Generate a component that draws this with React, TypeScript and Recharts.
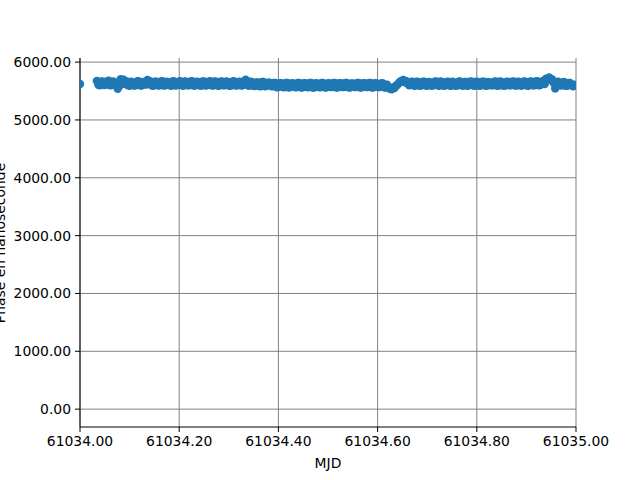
import { ScatterChart, Scatter, XAxis, YAxis, CartesianGrid } from "recharts";

const BASE_MJD = 61034;

// sample times (day fraction after BASE_MJD)
const dayOffsets = [
  0.0,
  0.034, 0.04, 0.046, 0.052, 0.058, 0.064, 0.07, 0.076, 0.082, 0.088,
  0.094, 0.1, 0.106, 0.112, 0.118, 0.124, 0.13, 0.136, 0.142, 0.148,
  0.154, 0.16, 0.166, 0.172, 0.178, 0.184, 0.19, 0.196, 0.202, 0.208,
  0.214, 0.22, 0.226, 0.232, 0.238, 0.244, 0.25, 0.256, 0.262, 0.268,
  0.274, 0.28, 0.286, 0.292, 0.298, 0.304, 0.31, 0.316, 0.322, 0.328,
  0.334, 0.34, 0.346, 0.352, 0.358, 0.364, 0.37, 0.376, 0.382, 0.388,
  0.394, 0.4, 0.406, 0.412, 0.418, 0.424, 0.43, 0.436, 0.442, 0.448,
  0.454, 0.46, 0.466, 0.472, 0.478, 0.484, 0.49, 0.496, 0.502, 0.508,
  0.514, 0.52, 0.526, 0.532, 0.538, 0.544, 0.55, 0.556, 0.562, 0.568,
  0.574, 0.58, 0.586, 0.592, 0.598, 0.604, 0.61, 0.616, 0.622, 0.628,
  0.634, 0.64, 0.646, 0.652, 0.658, 0.664, 0.67, 0.676, 0.682, 0.688,
  0.694, 0.7, 0.706, 0.712, 0.718, 0.724, 0.73, 0.736, 0.742, 0.748,
  0.754, 0.76, 0.766, 0.772, 0.778, 0.784, 0.79, 0.796, 0.802, 0.808,
  0.814, 0.82, 0.826, 0.832, 0.838, 0.844, 0.85, 0.856, 0.862, 0.868,
  0.874, 0.88, 0.886, 0.892, 0.898, 0.904, 0.91, 0.916, 0.922, 0.928,
  0.934, 0.94, 0.946, 0.952, 0.958, 0.964, 0.97, 0.976, 0.982, 0.988,
  0.994, 1.0,
];

// phase in ns at dayOffsets
const phaseNs = [
  5623,
  5675, 5600, 5660, 5610, 5680, 5605, 5650, 5540, 5705, 5695,
  5665, 5590, 5650, 5600, 5670, 5595, 5640, 5690, 5665, 5590,
  5660, 5595, 5670, 5600, 5650, 5590, 5665, 5605, 5670, 5590,
  5660, 5600, 5670, 5595, 5655, 5590, 5665, 5600, 5670, 5595,
  5660, 5590, 5665, 5600, 5655, 5590, 5670, 5595, 5660, 5600,
  5695, 5590, 5655, 5585, 5650, 5580, 5655, 5590, 5645, 5580,
  5640, 5570, 5635, 5565, 5640, 5570, 5630, 5565, 5640, 5560,
  5635, 5565, 5640, 5560, 5630, 5565, 5640, 5560, 5635, 5570,
  5640, 5565, 5635, 5570, 5640, 5560, 5630, 5570, 5640, 5565,
  5635, 5570, 5640, 5565, 5630, 5570, 5635, 5560, 5550, 5530,
  5550, 5610, 5665, 5690, 5670, 5600, 5660, 5590, 5655, 5595,
  5660, 5590, 5650, 5600, 5665, 5590, 5655, 5595, 5660, 5590,
  5650, 5595, 5665, 5590, 5655, 5600, 5660, 5590, 5655, 5595,
  5660, 5590, 5650, 5600, 5665, 5595, 5655, 5590, 5660, 5600,
  5665, 5595, 5655, 5600, 5660, 5590, 5665, 5600, 5670, 5605,
  5675, 5715, 5735, 5700, 5545, 5660, 5595, 5655, 5590, 5640,
  5580, 5600,
];

// in-between samples
const midOffsets = [
  0.037, 0.043, 0.049, 0.055, 0.061, 0.067, 0.073, 0.079, 0.085, 0.091,
  0.097, 0.103, 0.109, 0.115, 0.121, 0.127, 0.133, 0.139, 0.145, 0.151,
  0.157, 0.163, 0.169, 0.175, 0.181, 0.187, 0.193, 0.199, 0.205, 0.211,
  0.217, 0.223, 0.229, 0.235, 0.241, 0.247, 0.253, 0.259, 0.265, 0.271,
  0.277, 0.283, 0.289, 0.295, 0.301, 0.307, 0.313, 0.319, 0.325, 0.331,
  0.337, 0.343, 0.349, 0.355, 0.361, 0.367, 0.373, 0.379, 0.385, 0.391,
  0.397, 0.403, 0.409, 0.415, 0.421, 0.427, 0.433, 0.439, 0.445, 0.451,
  0.457, 0.463, 0.469, 0.475, 0.481, 0.487, 0.493, 0.499, 0.505, 0.511,
  0.517, 0.523, 0.529, 0.535, 0.541, 0.547, 0.553, 0.559, 0.565, 0.571,
  0.577, 0.583, 0.589, 0.595, 0.601, 0.607, 0.613, 0.619, 0.625, 0.631,
  0.637, 0.643, 0.649, 0.655, 0.661, 0.667, 0.673, 0.679, 0.685, 0.691,
  0.697, 0.703, 0.709, 0.715, 0.721, 0.727, 0.733, 0.739, 0.745, 0.751,
  0.757, 0.763, 0.769, 0.775, 0.781, 0.787, 0.793, 0.799, 0.805, 0.811,
  0.817, 0.823, 0.829, 0.835, 0.841, 0.847, 0.853, 0.859, 0.865, 0.871,
  0.877, 0.883, 0.889, 0.895, 0.901, 0.907, 0.913, 0.919, 0.925, 0.931,
  0.937, 0.943, 0.949, 0.955, 0.961, 0.967, 0.973, 0.979, 0.985, 0.991,
  0.997,
];

const midPhaseNs = [
  5610, 5665, 5605, 5670, 5600, 5665, 5590, 5580, 5680, 5620,
  5600, 5660, 5595, 5665, 5600, 5655, 5610, 5660, 5595, 5660,
  5600, 5665, 5595, 5660, 5600, 5670, 5595, 5660, 5600, 5665,
  5600, 5665, 5595, 5660, 5600, 5665, 5595, 5660, 5600, 5665,
  5595, 5660, 5600, 5665, 5590, 5660, 5600, 5655, 5595, 5665,
  5620, 5660, 5590, 5650, 5585, 5655, 5580, 5645, 5585, 5640,
  5565, 5635, 5570, 5640, 5560, 5635, 5570, 5640, 5565, 5635,
  5570, 5640, 5560, 5635, 5570, 5640, 5565, 5630, 5570, 5640,
  5560, 5635, 5570, 5640, 5565, 5630, 5570, 5640, 5560, 5635,
  5570, 5640, 5560, 5635, 5570, 5630, 5565, 5610, 5545, 5560,
  5590, 5640, 5680, 5650, 5620, 5655, 5595, 5660, 5590, 5660,
  5595, 5655, 5590, 5660, 5600, 5665, 5590, 5655, 5595, 5660,
  5590, 5660, 5600, 5655, 5590, 5665, 5595, 5660, 5590, 5660,
  5595, 5655, 5600, 5660, 5590, 5665, 5595, 5655, 5600, 5660,
  5595, 5660, 5590, 5665, 5595, 5660, 5600, 5665, 5600, 5660,
  5620, 5690, 5700, 5640, 5600, 5605, 5650, 5590, 5640, 5600,
  5610,
];

const xTicks = [61034.0, 61034.2, 61034.4, 61034.6, 61034.8, 61035.0];
const yTicks = [0, 1000, 2000, 3000, 4000, 5000, 6000];

const data = [
  ...dayOffsets.map((d, i) => ({ mjd: BASE_MJD + d, phase: phaseNs[i] })),
  ...midOffsets.map((d, i) => ({ mjd: BASE_MJD + d, phase: midPhaseNs[i] })),
];

const font = "DejaVu Sans, sans-serif";
const tickStyle = { fontSize: 13.9, fill: "#000", fontFamily: font };

const YLabel = () => (
  <text
    x={5}
    y={243}
    transform="rotate(-90, 5, 243)"
    textAnchor="middle"
    fontSize={13.9}
    fontFamily={font}
    fill="#000"
  >
    Phase en nanoseconde
  </text>
);

export default function App() {
  return (
    <div style={{ position: "absolute", left: 0, top: 0, width: 640, height: 480, background: "#fff" }}>
      <ScatterChart width={640} height={480} margin={{ top: 58, right: 64, bottom: 0, left: 0 }}>
        <XAxis
          xAxisId="top"
          orientation="top"
          dataKey="mjd"
          type="number"
          domain={[61034, 61035]}
          height={0}
          tick={false}
          tickLine={false}
          axisLine={{ stroke: "#000", strokeWidth: 1 }}
        />
        <YAxis
          yAxisId="right"
          orientation="right"
          dataKey="phase"
          type="number"
          domain={[-309, 6071]}
          width={0}
          tick={false}
          tickLine={false}
          axisLine={{ stroke: "#000", strokeWidth: 1 }}
        />
        <XAxis
          dataKey="mjd"
          type="number"
          domain={[61034, 61035]}
          ticks={xTicks}
          allowDataOverflow
          height={53}
          tick={tickStyle}
          tickSize={5}
          tickMargin={4}
          tickLine={{ stroke: "#000" }}
          axisLine={{ stroke: "#000", strokeWidth: 1 }}
          tickFormatter={(v: number) => v.toFixed(2)}
          label={{ value: "MJD", position: "insideBottom", offset: 12, fontSize: 13.9, fontFamily: font, fill: "#000" }}
        />
        <YAxis
          dataKey="phase"
          type="number"
          domain={[-309, 6071]}
          ticks={yTicks}
          allowDataOverflow
          width={80}
          tick={tickStyle}
          tickSize={5}
          tickMargin={4}
          tickLine={{ stroke: "#000" }}
          axisLine={{ stroke: "#000", strokeWidth: 1 }}
          tickFormatter={(v: number) => v.toFixed(2)}
          label={<YLabel />}
        />
        <Scatter
          data={data}
          isAnimationActive={false}
          fill="#1f77b4"
          shape={(p: any) => <circle cx={p.cx} cy={p.cy} r={4.2} fill="#1f77b4" />}
        />
        <CartesianGrid stroke="#808080" strokeWidth={1} horizontalValues={yTicks} verticalValues={xTicks} />
      </ScatterChart>
    </div>
  );
}
